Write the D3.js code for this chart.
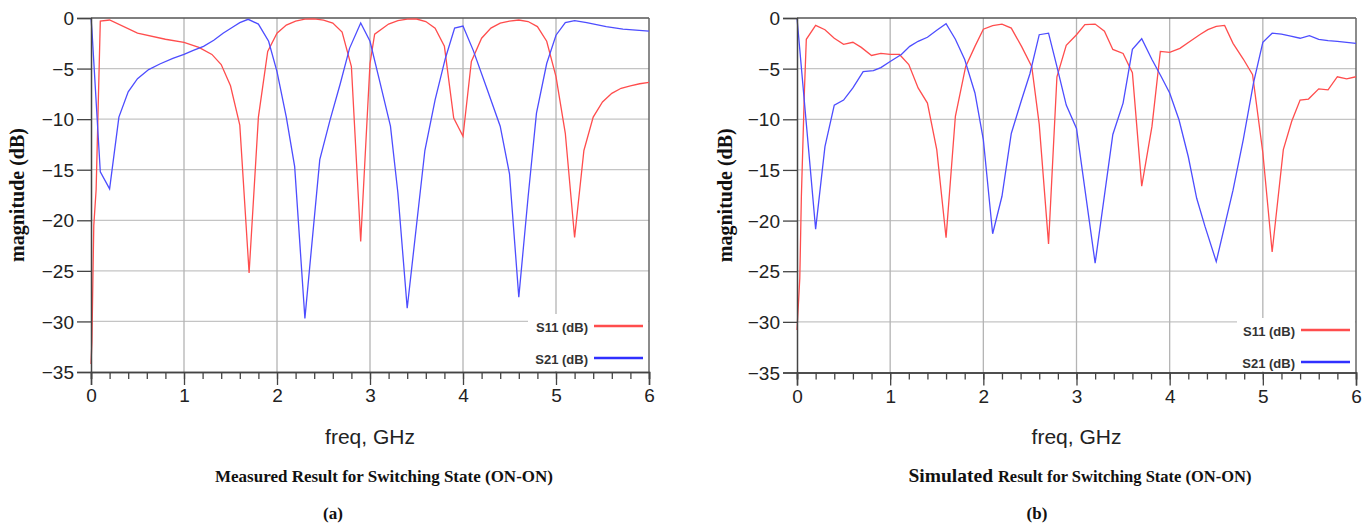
<!DOCTYPE html>
<html>
<head>
<meta charset="utf-8">
<script src="https://cdn.jsdelivr.net/npm/d3@7"></script>
<style>
  body { margin: 0; background: #fff; }
  svg { display: block; }
</style>
</head>
<body>
<div id="chart"></div>
<script>
// data: freq in GHz, magnitude in dB
var measS11F = [0, 0.01, 0.02, 0.03, 0.055, 0.1, 0.2, 0.5, 0.8, 1.0, 1.16, 1.3, 1.4, 1.5, 1.6, 1.7, 1.8, 1.9, 2.0, 2.1, 2.2, 2.3, 2.4, 2.5, 2.6, 2.7, 2.8, 2.9, 3.0, 3.05, 3.2, 3.3, 3.4, 3.5, 3.6, 3.7, 3.8, 3.9, 4.0, 4.09, 4.2, 4.3, 4.4, 4.5, 4.6, 4.7, 4.8, 4.9, 5.0, 5.1, 5.2, 5.3, 5.4, 5.5, 5.6, 5.7, 5.8, 5.9, 6.0];
var measS11 = [-34.2, -32, -26, -20.5, -17, -0.3, -0.2, -1.5, -2.1, -2.4, -2.9, -3.6, -4.6, -6.7, -10.6, -25.2, -9.8, -3.3, -1.5, -0.7, -0.3, -0.12, -0.08, -0.2, -0.5, -1.4, -4.8, -22.1, -4.5, -1.6, -0.6, -0.27, -0.12, -0.1, -0.35, -1.0, -2.8, -9.9, -11.7, -4.3, -2.0, -1.0, -0.5, -0.3, -0.2, -0.35, -0.85, -2.3, -5.8, -11.4, -21.7, -13.1, -9.8, -8.3, -7.45, -6.95, -6.7, -6.5, -6.36];

var measS21F = [0, 0.01, 0.1, 0.2, 0.3, 0.4, 0.5, 0.62, 0.74, 0.88, 1.0, 1.1, 1.21, 1.32, 1.42, 1.53, 1.6, 1.69, 1.8, 1.91, 2.0, 2.1, 2.19, 2.3, 2.46, 2.57, 2.68, 2.78, 2.9, 3.0, 3.1, 3.22, 3.3, 3.4, 3.59, 3.7, 3.81, 3.91, 4.0, 4.11, 4.25, 4.4, 4.5, 4.6, 4.7, 4.79, 4.9, 5.0, 5.1, 5.2, 5.33, 5.54, 5.72, 6.0];
var measS21 = [0, -1.2, -15.2, -16.9, -9.8, -7.3, -6.0, -5.1, -4.55, -4.0, -3.6, -3.2, -2.8, -2.2, -1.5, -0.86, -0.46, -0.13, -0.6, -2.3, -5.3, -9.8, -14.7, -29.7, -14.0, -10.1, -6.5, -3.0, -0.5, -2.3, -6.1, -10.7, -17.3, -28.7, -13.1, -8.1, -4.0, -1.0, -0.8, -3.2, -6.8, -10.7, -15.4, -27.6, -17.7, -9.4, -4.5, -1.7, -0.46, -0.27, -0.46, -0.86, -1.1, -1.3];

var simS11F = [0, 0.03, 0.047, 0.08, 0.1, 0.2, 0.3, 0.4, 0.5, 0.6, 0.69, 0.8, 0.9, 1.0, 1.1, 1.2, 1.3, 1.4, 1.5, 1.6, 1.7, 1.81, 1.91, 2.0, 2.1, 2.2, 2.3, 2.41, 2.52, 2.6, 2.7, 2.79, 2.89, 3.0, 3.09, 3.2, 3.3, 3.39, 3.5, 3.6, 3.7, 3.81, 3.9, 4.0, 4.11, 4.22, 4.33, 4.41, 4.5, 4.59, 4.68, 4.79, 4.89, 5.0, 5.1, 5.22, 5.31, 5.4, 5.49, 5.6, 5.7, 5.8, 5.9, 6.0];
var simS11 = [-30.8, -25.7, -17.6, -7.1, -2.1, -0.73, -1.16, -2.0, -2.6, -2.4, -2.9, -3.7, -3.5, -3.6, -3.6, -4.6, -6.9, -8.4, -13.0, -21.7, -9.7, -4.8, -2.8, -1.1, -0.75, -0.6, -1.0, -2.8, -4.8, -10.5, -22.3, -5.8, -2.7, -1.65, -0.66, -0.6, -1.3, -3.1, -3.5, -5.4, -16.6, -10.7, -3.3, -3.4, -3.0, -2.3, -1.6, -1.15, -0.83, -0.73, -2.5, -4.05, -5.6, -13.3, -23.1, -13.0, -10.2, -8.1, -8.0, -7.0, -7.1, -5.8, -6.0, -5.8];

var simS21F = [0, 0.2, 0.3, 0.4, 0.5, 0.6, 0.71, 0.82, 0.9, 1.0, 1.12, 1.21, 1.3, 1.4, 1.5, 1.6, 1.7, 1.8, 1.91, 2.0, 2.1, 2.2, 2.3, 2.41, 2.5, 2.6, 2.7, 2.79, 2.89, 3.0, 3.2, 3.39, 3.5, 3.6, 3.7, 3.81, 3.91, 4.0, 4.1, 4.2, 4.29, 4.38, 4.5, 4.68, 4.79, 4.9, 5.0, 5.1, 5.2, 5.3, 5.4, 5.5, 5.6, 5.7, 5.8, 6.0];
var simS21 = [0, -20.85, -12.7, -8.6, -8.1, -6.9, -5.3, -5.2, -4.9, -4.3, -3.6, -2.8, -2.3, -1.9, -1.2, -0.56, -2.1, -4.1, -7.4, -12.0, -21.3, -17.6, -11.4, -8.1, -5.5, -1.65, -1.5, -4.8, -8.6, -10.9, -24.2, -11.5, -8.4, -3.1, -2.05, -4.1, -5.8, -7.4, -10.05, -13.7, -17.8, -20.6, -24.05, -17.0, -12.0, -6.4, -2.4, -1.5, -1.6, -1.8, -2.0, -1.75, -2.1, -2.24, -2.3, -2.5];

var xTicks = [0, 1, 2, 3, 4, 5, 6];
var yTicks = [0, -5, -10, -15, -20, -25, -30, -35];
var legendNames = ["S11 (dB)", "S21 (dB)"];

var svgWidth = 1371;
var svgHeight = 525;

var svg = d3.select("#chart")
    .append("svg")
    .attr("width", svgWidth)
    .attr("height", svgHeight);

var red = "#ff4d4d";
var blue = "#4d4dff";

function drawPanel(p) {
    var x = d3.scaleLinear().domain([0, 6]).range([p.left, p.right]);
    var y = d3.scaleLinear().domain([0, -35]).range([p.top, p.bottom]);
    var g = svg.append("g");

    // grid
    g.append("g").selectAll("line")
        .data(yTicks.slice(1, -1))
        .enter().append("line")
        .attr("x1", p.left).attr("x2", p.right)
        .attr("y1", d => y(d)).attr("y2", d => y(d))
        .attr("stroke", "#c4c4c4").attr("stroke-width", 1.3);
    g.append("g").selectAll("line")
        .data(xTicks.slice(1, -1))
        .enter().append("line")
        .attr("x1", d => x(d)).attr("x2", d => x(d))
        .attr("y1", p.top).attr("y2", p.bottom)
        .attr("stroke", "#b4b4b4").attr("stroke-width", 1.3);

    // frame top + right
    g.append("line").attr("x1", p.left).attr("x2", p.right)
        .attr("y1", p.top).attr("y2", p.top)
        .attr("stroke", "#555").attr("stroke-width", 1.3);
    g.append("line").attr("x1", p.right).attr("x2", p.right)
        .attr("y1", p.top).attr("y2", p.bottom)
        .attr("stroke", "#666").attr("stroke-width", 1.5);

    // curves
    var line = d3.line().x(d => x(d[0])).y(d => y(d[1]));
    g.append("path")
        .datum(p.s11F.map((f, i) => [f, p.s11[i]]))
        .attr("d", line).attr("fill", "none")
        .attr("stroke", red).attr("stroke-width", 1.3);
    g.append("path")
        .datum(p.s21F.map((f, i) => [f, p.s21[i]]))
        .attr("d", line).attr("fill", "none")
        .attr("stroke", blue).attr("stroke-width", 1.3);

    // legend box
    var lg = g.append("g");
    lg.append("rect")
        .attr("x", p.legX).attr("y", p.legY)
        .attr("width", p.right - p.legX - 1).attr("height", p.bottom - p.legY - 1)
        .attr("fill", "#fff");
    legendNames.forEach(function(name, i) {
        var ly = p.legY + 12 + i * 32;
        lg.append("text")
            .attr("x", p.right - 61).attr("y", ly + 5.5)
            .attr("text-anchor", "end")
            .attr("font-family", "Liberation Sans, Arial, sans-serif")
            .attr("font-weight", "bold")
            .attr("font-size", "13px")
            .attr("fill", "#333")
            .text(name);
        lg.append("line")
            .attr("x1", p.right - 55).attr("x2", p.right - 6)
            .attr("y1", ly).attr("y2", ly)
            .attr("stroke", i == 0 ? red : "#3030ff")
            .attr("stroke-width", 2.5);
    });

    // axes
    var xMinor = g.append("g")
        .attr("transform", `translate(0, ${p.bottom})`)
        .call(d3.axisBottom(x).tickValues(d3.range(0, 6.01, 0.2)).tickSize(7).tickFormat(""));
    var xAxis = g.append("g")
        .attr("transform", `translate(0, ${p.bottom})`)
        .call(d3.axisBottom(x).tickValues(xTicks).tickSize(13).tickPadding(4).tickFormat(d3.format("d")));
    var yAxis = g.append("g")
        .attr("transform", `translate(${p.left}, 0)`)
        .call(d3.axisLeft(y).tickValues(yTicks).tickSize(14).tickPadding(3).tickFormat(d3.format("d")));

    [xMinor, xAxis, yAxis].forEach(function(a) {
        a.select(".domain").attr("stroke", "#444").attr("stroke-width", 1.5);
        a.selectAll(".tick line").attr("stroke", "#444").attr("stroke-width", 1.3);
        a.selectAll("text")
            .attr("font-family", "Liberation Sans, Arial, sans-serif")
            .attr("font-size", "19px")
            .attr("fill", "#222");
    });
    yAxis.selectAll("text").attr("dy", "0.35em");

    // axis labels
    g.append("text")
        .attr("x", (p.left + p.right) / 2).attr("y", 444)
        .attr("text-anchor", "middle")
        .attr("font-family", "Liberation Sans, Arial, sans-serif")
        .attr("font-size", "21px")
        .attr("fill", "#222")
        .text("freq, GHz");

    g.append("text")
        .attr("transform", `translate(${p.ylabX}, ${(p.top + p.bottom) / 2}) rotate(-90)`)
        .attr("text-anchor", "middle")
        .attr("font-family", "Liberation Serif, Times New Roman, serif")
        .attr("font-weight", "bold")
        .attr("font-size", "20px")
        .attr("fill", "#111")
        .text("magnitude (dB)");
}

drawPanel({
    left: 91, right: 649, top: 18, bottom: 372,
    s11F: measS11F, s11: measS11, s21F: measS21F, s21: measS21,
    legX: 528, legY: 314, ylabX: 24
});

drawPanel({
    left: 797, right: 1356, top: 18, bottom: 372.5,
    s11F: simS11F, s11: simS11, s21F: simS21F, s21: simS21,
    legX: 1237, legY: 318, ylabX: 732
});

// captions
var serif = "Liberation Serif, Times New Roman, serif";
svg.append("text")
    .attr("x", 384).attr("y", 482)
    .attr("text-anchor", "middle")
    .attr("font-family", serif).attr("font-weight", "bold")
    .attr("font-size", "17px").attr("fill", "#111")
    .text("Measured Result for Switching State (ON-ON)");

var cap2 = svg.append("text")
    .attr("x", 1080).attr("y", 482)
    .attr("text-anchor", "middle")
    .attr("font-family", serif).attr("font-weight", "bold")
    .attr("fill", "#111");
cap2.append("tspan").attr("font-size", "19.5px").text("Simulated ");
cap2.append("tspan").attr("font-size", "16.5px").text("Result for Switching State (ON-ON)");

svg.append("text")
    .attr("x", 333).attr("y", 519)
    .attr("text-anchor", "middle")
    .attr("font-family", serif).attr("font-weight", "bold")
    .attr("font-size", "17px").attr("fill", "#111")
    .text("(a)");

svg.append("text")
    .attr("x", 1037).attr("y", 519)
    .attr("text-anchor", "middle")
    .attr("font-family", serif).attr("font-weight", "bold")
    .attr("font-size", "17px").attr("fill", "#111")
    .text("(b)");
</script>
</body>
</html>
